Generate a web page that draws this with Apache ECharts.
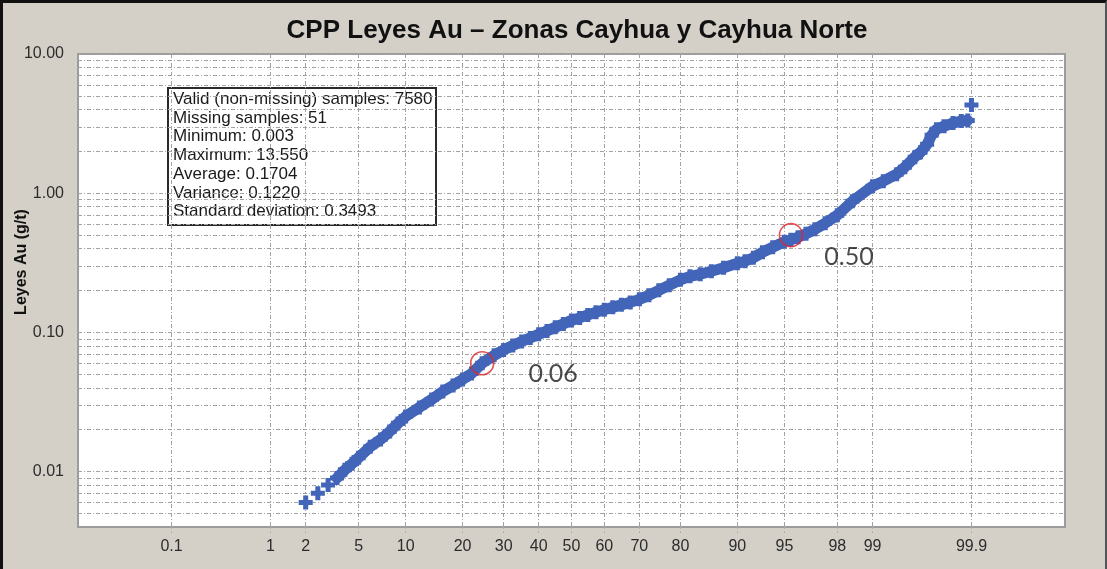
<!DOCTYPE html>
<html>
<head>
<meta charset="utf-8">
<script src="https://cdn.jsdelivr.net/npm/echarts@6/dist/echarts.min.js"></script>
<style>
  html, body { margin: 0; padding: 0; background: #d4d0c8; }
  #chart { position: absolute; left: 0; top: 0; width: 1107px; height: 569px; }
  #frame { position: absolute; left: 0; top: 0; width: 1107px; height: 569px; box-sizing: border-box;
           border-left: 3px solid #111; border-top: 3px solid #111; border-right: 2px solid #555; pointer-events: none; }
</style>
</head>
<body>
<div id="chart"></div>
<div id="frame"></div>
<script>
// Cumulative probability (%) and Au grade (g/t) along the probability curve
const cumPct = [2, 2.5, 3, 3.5, 4, 4.5, 5, 6, 7, 8, 9, 10, 12, 14, 16, 18, 20, 22, 24.5, 27.5,
  30, 32.5, 35, 37.5, 40, 42.5, 45, 47.5, 50, 52.5, 55, 57.5, 60, 62.5, 65, 67.5, 70, 72.5, 75, 77.5,
  80, 82, 84, 86, 88, 90, 91, 92, 93, 94, 95, 95.5, 96, 96.5, 97, 97.5, 98, 98.5, 99, 99.2,
  99.4, 99.5, 99.6, 99.65, 99.7, 99.73, 99.76, 99.8, 99.84, 99.87, 99.89, 99.9];
const gradeAu = [0.006, 0.007, 0.008, 0.009, 0.0103, 0.0114, 0.0126, 0.0151, 0.0170, 0.0194, 0.0222, 0.0249, 0.0289, 0.0330, 0.0376, 0.0416, 0.0459, 0.0507, 0.0600, 0.0684,
  0.0748, 0.0806, 0.0861, 0.0912, 0.0968, 0.1025, 0.1087, 0.1151, 0.1220, 0.1271, 0.1336, 0.1393, 0.1452, 0.1513, 0.1577, 0.1643, 0.1727, 0.1846, 0.2005, 0.2180,
  0.2386, 0.2529, 0.2614, 0.2748, 0.2911, 0.3134, 0.3243, 0.3436, 0.3765, 0.4093, 0.4477, 0.4625, 0.4823, 0.5114, 0.5508, 0.6084, 0.695, 0.876, 1.123, 1.220,
  1.370, 1.538, 1.815, 1.97, 2.25, 2.61, 2.88, 3.03, 3.19, 3.30, 3.33, 4.30];

// Highlighted cut-offs: cumulative % and grade
const markPct = [24.5, 95.5];
const markGrade = [0.06, 0.50];

// Probability axis ticks
const probTicks = [0.1, 1, 2, 5, 10, 20, 30, 40, 50, 60, 70, 80, 90, 95, 98, 99, 99.9];
const probLabels = ['0.1', '1', '2', '5', '10', '20', '30', '40', '50', '60', '70', '80', '90', '95', '98', '99', '99.9'];

// Log grade axis grid values and labelled decades
const gradeGrid = [0.005, 0.006, 0.007, 0.008, 0.009,
  0.01, 0.02, 0.03, 0.04, 0.05, 0.06, 0.07, 0.08, 0.09,
  0.1, 0.2, 0.3, 0.4, 0.5, 0.6, 0.7, 0.8, 0.9,
  1, 2, 3, 4, 5, 6, 7, 8, 9, 10];
const gradeLabels = [0.01, 0.1, 1, 10];

const statLines = [
  'Valid (non-missing) samples: 7580',
  'Missing samples: 51',
  'Minimum: 0.003',
  'Maximum: 13.550',
  'Average: 0.1704',
  'Variance: 0.1220',
  'Standard deviation: 0.3493'
];

// Inverse standard normal CDF (Acklam) used for the probability scale
function probit(p) {
  const a = [-3.969683028665376e+01, 2.209460984245205e+02, -2.759285104469687e+02, 1.383577518672690e+02, -3.066479806614716e+01, 2.506628277459239e+00];
  const b = [-5.447609879822406e+01, 1.615858368580409e+02, -1.556989798598866e+02, 6.680131188771972e+01, -1.328068155288572e+01];
  const c = [-7.784894002430293e-03, -3.223964580411365e-01, -2.400758277161838e+00, -2.549732539343734e+00, 4.374664141464968e+00, 2.938163982698783e+00];
  const d = [7.784695709041462e-03, 3.224671290700398e-01, 2.445134137142996e+00, 3.754408661907416e+00];
  const pl = 0.02425;
  let q, r;
  if (p < pl) {
    q = Math.sqrt(-2 * Math.log(p));
    return (((((c[0]*q+c[1])*q+c[2])*q+c[3])*q+c[4])*q+c[5]) / ((((d[0]*q+d[1])*q+d[2])*q+d[3])*q+1);
  }
  if (p > 1 - pl) {
    q = Math.sqrt(-2 * Math.log(1 - p));
    return -(((((c[0]*q+c[1])*q+c[2])*q+c[3])*q+c[4])*q+c[5]) / ((((d[0]*q+d[1])*q+d[2])*q+d[3])*q+1);
  }
  q = p - 0.5; r = q * q;
  return (((((a[0]*r+a[1])*r+a[2])*r+a[3])*r+a[4])*r+a[5])*q / (((((b[0]*r+b[1])*r+b[2])*r+b[3])*r+b[4])*r+1);
}
const toZ = pct => probit(pct / 100);

const points = cumPct.map((p, i) => [toZ(p), gradeAu[i]]);
const bandPoints = points.slice(3, points.length - 1);
const markPoints = markPct.map((p, i) => [toZ(p), markGrade[i]]);
const probTickZ = probTicks.map(toZ);

const BLUE = '#4265b9';
const GRID_COLOR = '#a2a2a2';
const PLUS = 'path://M32,0H68V32H100V68H68V100H32V68H0V32H32Z';

const chart = echarts.init(document.getElementById('chart'), null, { renderer: 'canvas' });
chart.setOption({
  animation: false,
  backgroundColor: 'transparent',
  grid: {
    left: 78, right: 42, top: 54, bottom: 42,
    show: true, backgroundColor: '#ffffff', borderColor: '#9c9c9c', borderWidth: 2
  },
  xAxis: {
    type: 'value',
    min: -3.813, max: 3.813,
    axisLine: { show: false },
    axisTick: { show: true, customValues: probTickZ, length: 7, inside: false,
      lineStyle: { color: '#b0b0b0', type: [2, 2] } },
    axisLabel: {
      customValues: probTickZ,
      margin: 12,
      color: '#2c2c2c',
      fontFamily: 'Liberation Sans, Arial, sans-serif',
      fontSize: 16,
      formatter: v => {
        let best = 0;
        probTickZ.forEach((z, i) => { if (Math.abs(z - v) < Math.abs(probTickZ[best] - v)) best = i; });
        return probLabels[best];
      }
    },
    splitLine: { show: true, lineStyle: { color: GRID_COLOR, width: 1, type: [4, 2, 1, 2] } }
  },
  yAxis: {
    type: 'log',
    logBase: 10,
    min: 0.004, max: 10,
    axisLine: { show: false },
    axisTick: { show: true, customValues: gradeGrid, length: 5,
      lineStyle: { color: '#b0b0b0', type: [2, 2] } },
    axisLabel: {
      customValues: gradeLabels,
      margin: 14,
      color: '#2c2c2c',
      fontFamily: 'Liberation Sans, Arial, sans-serif',
      fontSize: 16,
      formatter: v => Number(v).toFixed(2)
    },
    splitLine: { show: true, lineStyle: { color: GRID_COLOR, width: 1, type: [4, 2, 1, 2] } }
  },
  series: [
    {
      name: 'band',
      type: 'line',
      data: bandPoints,
      showSymbol: false,
      silent: true,
      z: 2,
      lineStyle: { color: BLUE, width: 11, cap: 'round', join: 'round' }
    },
    {
      name: 'Au',
      type: 'scatter',
      data: points,
      symbol: PLUS,
      symbolSize: 14,
      z: 3,
      itemStyle: { color: BLUE, opacity: 1 }
    },
    {
      name: 'cutoffs',
      type: 'scatter',
      data: markPoints,
      symbol: 'circle',
      symbolSize: 23,
      z: 5,
      itemStyle: { color: 'rgba(0,0,0,0)', borderColor: '#e0262b', borderWidth: 1.6 },
      label: {
        show: true,
        position: 'right',
        formatter: p => p.value[1].toFixed(2),
        fontFamily: 'Lato, "Open Sans", sans-serif',
        fontSize: 25,
        color: '#1c1c1c'
      },
      emphasis: { disabled: true }
    }
  ],
  graphic: [
    {
      type: 'text', x: 577, y: 31, z: 10,
      style: { text: 'CPP Leyes Au \u2013 Zonas Cayhua y Cayhua Norte', fill: '#111',
        font: 'bold 26px "Liberation Sans", Arial, sans-serif', align: 'center', verticalAlign: 'middle' }
    },
    {
      type: 'text', x: 22, y: 262, rotation: Math.PI / 2, z: 10,
      style: { text: 'Leyes Au (g/t)', fill: '#111',
        font: 'bold 16px "Liberation Sans", Arial, sans-serif', align: 'center', verticalAlign: 'middle' }
    },
    {
      type: 'group', z: 20,
      children: [
        { type: 'rect', shape: { x: 168, y: 88, width: 268, height: 137 },
          style: { fill: '#ffffff', stroke: '#2a2a2a', lineWidth: 2 } },
        { type: 'text', x: 173, y: 90,
          style: { text: statLines.join('\n'), fill: '#1a1a1a', lineHeight: 18.7,
            font: '17px "Liberation Sans", Arial, sans-serif', verticalAlign: 'top' } }
      ]
    }
  ]
});

// place the cut-off labels beside their circles
chart.setOption({
  series: [{}, {}, {
    data: [
      { value: markPoints[0], label: { offset: [29, 11] } },
      { value: markPoints[1], label: { offset: [16, 22] } }
    ]
  }]
});
</script>
</body>
</html>
